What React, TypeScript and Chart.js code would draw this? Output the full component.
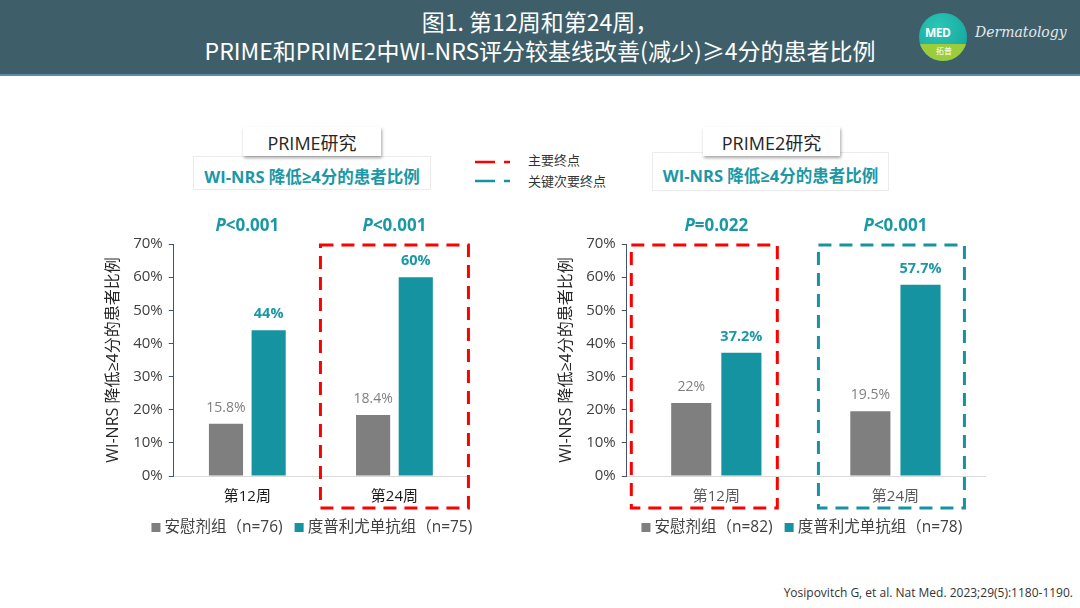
import React, { useEffect, useRef } from "react";
import { Chart, registerables } from "chart.js";

Chart.register(...registerables);

// ---------- data ----------
const weeks = ["第12周", "第24周"];
const primePlacebo = [15.8, 18.4];
const primeDupilumab = [44, 60];
const prime2Placebo = [22, 19.5];
const prime2Dupilumab = [37.2, 57.7];
const primePValues = ["<0.001", "<0.001"];
const prime2PValues = ["=0.022", "<0.001"];
const primeLegend = ["安慰剂组（n=76)", "度普利尤单抗组（n=75)"];
const prime2Legend = ["安慰剂组（n=82)", "度普利尤单抗组（n=78)"];
const primeBoxes = ["", "primary"];
const prime2Boxes = ["primary", "secondary"];
const yAxisTitle = "WI-NRS 降低≥4分的患者比例";
const yMax = 70;
const yStep = 10;

// ---------- style ----------
const FONT = '"Open Sans", "Noto Sans CJK SC", sans-serif';
const GREY = "#7f7f7f";
const TEAL = "#1593a0";
const TEAL_TEXT = "#1b98a6";
const RED = "#ff0000";
const AXIS = "#44546a";

type PanelProps = {
  left: number;
  top: number;
  width: number;
  height: number;
  placebo: number[];
  dupi: number[];
  pValues: string[];
  boxes: string[];
  legend: string[];
  padding: { left: number; right: number; top: number; bottom: number };
  catPct: number;
  tickColor: string;
  boxHalf: number;
  boxShifts: number[];
  legendShift: number;
};

function BarPanel(p: PanelProps) {
  const ref = useRef<HTMLCanvasElement>(null);
  useEffect(() => {
    const labelsPlugin = {
      id: "valueLabels",
      afterDatasetsDraw(chart: any) {
        const ctx = chart.ctx;
        ctx.save();
        ctx.textAlign = "center";
        ctx.textBaseline = "middle";
        chart.data.datasets.forEach((ds: any, di: number) => {
          const meta = chart.getDatasetMeta(di);
          meta.data.forEach((el: any, i: number) => {
            const v = ds.data[i];
            if (di === 0) {
              ctx.font = `14px ${FONT}`;
              ctx.fillStyle = GREY;
            } else {
              ctx.font = `bold 14.5px ${FONT}`;
              ctx.fillStyle = TEAL_TEXT;
            }
            ctx.fillText(`${v}%`, el.x, el.y - 16);
          });
        });
        ctx.restore();
      },
    };
    const annotPlugin = {
      id: "annot",
      afterDraw(chart: any) {
        const ctx = chart.ctx;
        const xs = chart.scales.x;
        const ys = chart.scales.y;
        const area = chart.chartArea;
        ctx.save();
        // P values
        p.pValues.forEach((pv, i) => {
          const cx = xs.getPixelForValue(i);
          const cy = area.top - 18;
          ctx.textBaseline = "middle";
          ctx.font = `italic bold 17px ${FONT}`;
          const w1 = ctx.measureText("P").width;
          ctx.font = `bold 17px ${FONT}`;
          const w2 = ctx.measureText(pv).width;
          const x0 = cx - (w1 + w2) / 2;
          ctx.fillStyle = TEAL_TEXT;
          ctx.textAlign = "left";
          ctx.font = `italic bold 17px ${FONT}`;
          ctx.fillText("P", x0, cy);
          ctx.font = `bold 17px ${FONT}`;
          ctx.fillText(pv, x0 + w1, cy);
        });
        // endpoint boxes
        p.boxes.forEach((b, i) => {
          if (!b) return;
          const cx = xs.getPixelForValue(i) + p.boxShifts[i];
          const x1 = cx - p.boxHalf;
          const x2 = cx + p.boxHalf;
          const y1 = ys.getPixelForValue(yMax) + 1;
          const y2 = area.bottom + 32;
          ctx.strokeStyle = b === "primary" ? RED : TEAL;
          ctx.lineWidth = 3;
          ctx.setLineDash([13, 8]);
          ctx.strokeRect(x1, y1, x2 - x1, y2 - y1);
        });
        ctx.setLineDash([]);
        // series legend
        ctx.font = `15.5px ${FONT}`;
        const items = chart.data.datasets.map((ds: any) => ({
          text: ds.label as string,
          color: ds.backgroundColor as string,
          w: 9 + 4 + ctx.measureText(ds.label).width,
        }));
        const gap = 12;
        const total = items.reduce((s: number, it: any) => s + it.w, 0) + gap * (items.length - 1);
        let x = (area.left + area.right) / 2 + p.legendShift - total / 2;
        const y = area.bottom + 51;
        ctx.textAlign = "left";
        ctx.textBaseline = "middle";
        items.forEach((it: any) => {
          ctx.fillStyle = it.color;
          ctx.fillRect(x, y - 4, 9, 9);
          ctx.fillStyle = "#404040";
          ctx.fillText(it.text, x + 13, y + 1);
          x += it.w + gap;
        });
        ctx.restore();
      },
    };
    const chart = new Chart(ref.current as HTMLCanvasElement, {
      type: "bar",
      data: {
        labels: weeks,
        datasets: [
          {
            label: p.legend[0],
            data: p.placebo,
            backgroundColor: GREY,
            borderWidth: 0,
            barPercentage: 0.8,
            categoryPercentage: p.catPct,
          },
          {
            label: p.legend[1],
            data: p.dupi,
            backgroundColor: TEAL,
            borderWidth: 0,
            barPercentage: 0.8,
            categoryPercentage: p.catPct,
          },
        ],
      },
      options: {
        responsive: false,
        maintainAspectRatio: false,
        animation: false,
        devicePixelRatio: 1,
        layout: { padding: p.padding },
        plugins: {
          tooltip: { enabled: false },
          legend: { display: false },
        },
        scales: {
          x: {
            grid: { display: true, drawOnChartArea: false, drawTicks: false },
            border: { color: "#d9d9d9", width: 1 },
            ticks: {
              color: p.tickColor,
              font: { size: 15, family: FONT },
              padding: 12,
            },
            afterFit: (scale: any) => {
              scale.height = 33;
            },
          },
          y: {
            min: 0,
            max: yMax,
            ticks: {
              stepSize: yStep,
              color: "#404040",
              font: { size: 15, family: FONT },
              padding: 6,
              callback: (v: any) => `${v}%`,
            },
            grid: { drawOnChartArea: false, color: AXIS, tickLength: 5 },
            border: { color: AXIS, width: 1 },
            title: {
              display: true,
              text: yAxisTitle,
              color: "#262626",
              font: { size: 16, family: FONT },
              padding: { top: 0, bottom: 4 },
            },
          },
        },
      },
      plugins: [labelsPlugin, annotPlugin],
    });
    return () => chart.destroy();
  }, []);
  return (
    <canvas
      ref={ref}
      width={p.width}
      height={p.height}
      style={{ position: "absolute", left: p.left, top: p.top, width: p.width, height: p.height }}
    />
  );
}

function TitleBoxes(props: { title: string; subLeft: number; subRight: number; subTop: number; subBottom: number; titleLeft: number; titleRight: number }) {
  return (
    <>
      <div
        style={{
          position: "absolute",
          left: props.subLeft,
          top: props.subTop,
          width: props.subRight - props.subLeft,
          height: props.subBottom - props.subTop,
          border: "1px solid #ececec",
          boxSizing: "border-box",
          display: "flex",
          alignItems: "center",
          justifyContent: "center",
          color: TEAL_TEXT,
          fontWeight: 700,
          fontSize: 16.5,
          fontFamily: FONT,
          paddingTop: 6,
        }}
      >
        {yAxisTitle}
      </div>
      <div
        style={{
          position: "absolute",
          left: props.titleLeft,
          top: 127,
          width: props.titleRight - props.titleLeft,
          height: 29,
          background: "#fff",
          boxShadow: "1px 2px 3px rgba(0,0,0,0.35)",
          display: "flex",
          alignItems: "center",
          justifyContent: "center",
          color: "#262626",
          fontSize: 18,
          fontFamily: FONT,
        }}
      >
        {props.title}
      </div>
    </>
  );
}

export default function App() {
  useEffect(() => {
    document.body.style.margin = "0";
    document.body.style.background = "#fff";
  }, []);
  return (
    <div style={{ position: "absolute", left: 0, top: 0, width: 1080, height: 608, overflow: "hidden", background: "#fff", fontFamily: FONT }}>
      {/* header */}
      <div
        style={{
          position: "absolute",
          left: 0,
          top: 0,
          width: 1080,
          height: 74,
          background: "#3e5f6a",
          borderBottom: "2px solid #5d8ea3",
        }}
      />
      <div
        style={{
          position: "absolute",
          left: 0,
          top: 7,
          width: 1080,
          textAlign: "center",
          color: "#fff",
          fontSize: 23,
          lineHeight: "29px",
          fontFamily: '"Noto Sans CJK SC", sans-serif',
        }}
      >
        <div>图1. 第12周和第24周，</div>
        <div>PRIME和PRIME2中WI-NRS评分较基线改善(减少)≥4分的患者比例</div>
      </div>
      {/* logo */}
      <div
        style={{
          position: "absolute",
          left: 919,
          top: 13,
          width: 48,
          height: 48,
          borderRadius: 24,
          overflow: "hidden",
          background: "radial-gradient(circle at 40% 30%, #2cc7b4, #0f9e9c)",
        }}
      >
        <div style={{ position: "absolute", left: 0, top: 31, width: 48, height: 17, background: "#9ccc3a" }} />
        <div style={{ position: "absolute", left: 6, top: 11, color: "#fff", fontSize: 12, fontWeight: 700, fontFamily: FONT, letterSpacing: -0.5 }}>MED</div>
        <div style={{ position: "absolute", left: 17, top: 32, color: "#fff", fontSize: 8, fontFamily: '"Noto Sans CJK SC"' }}>拓普</div>
      </div>
      <div
        style={{
          position: "absolute",
          left: 975,
          top: 24,
          color: "#e3eaec",
          fontSize: 14,
          fontStyle: "italic",
          fontFamily: '"DejaVu Serif", serif',
        }}
      >
        Dermatology
      </div>

      {/* study titles */}
      <TitleBoxes title="PRIME研究" subLeft={193} subRight={431} subTop={156} subBottom={190} titleLeft={243} titleRight={381} />
      <TitleBoxes title="PRIME2研究" subLeft={652} subRight={889} subTop={152} subBottom={191} titleLeft={703} titleRight={840} />

      {/* endpoint legend */}
      <svg style={{ position: "absolute", left: 470, top: 150, width: 50, height: 40 }} width={50} height={40}>
        <line x1={5} y1={12} x2={40} y2={12} stroke={RED} strokeWidth={2.5} strokeDasharray="20 9" />
        <line x1={5} y1={31} x2={40} y2={31} stroke={TEAL} strokeWidth={2.5} strokeDasharray="20 9" />
      </svg>
      <div style={{ position: "absolute", left: 528, top: 151, fontSize: 13, color: "#333", lineHeight: "18px" }}>主要终点</div>
      <div style={{ position: "absolute", left: 528, top: 172, fontSize: 13, color: "#333", lineHeight: "18px" }}>关键次要终点</div>

      <BarPanel
        left={100}
        top={200}
        width={422}
        height={349}
        placebo={primePlacebo}
        dupi={primeDupilumab}
        pValues={primePValues}
        boxes={primeBoxes}
        legend={primeLegend}
        padding={{ left: 4, right: 54, top: 44, bottom: 40 }}
        catPct={0.58}
        tickColor="#1a1a1a"
        boxHalf={74}
        boxShifts={[0, 0]}
        legendShift={-9}
      />
      <BarPanel
        left={554}
        top={200}
        width={490}
        height={349}
        placebo={prime2Placebo}
        dupi={prime2Dupilumab}
        pValues={prime2PValues}
        boxes={prime2Boxes}
        legend={prime2Legend}
        padding={{ left: 3, right: 59, top: 44, bottom: 40 }}
        catPct={0.56}
        tickColor="#595959"
        boxHalf={73}
        boxShifts={[-12, -4]}
        legendShift={-4}
      />

      <div style={{ position: "absolute", right: 7, top: 584, fontSize: 12, color: "#333", fontFamily: FONT }}>
        Yosipovitch G, et al. Nat Med. 2023;29(5):1180-1190.
      </div>
    </div>
  );
}
